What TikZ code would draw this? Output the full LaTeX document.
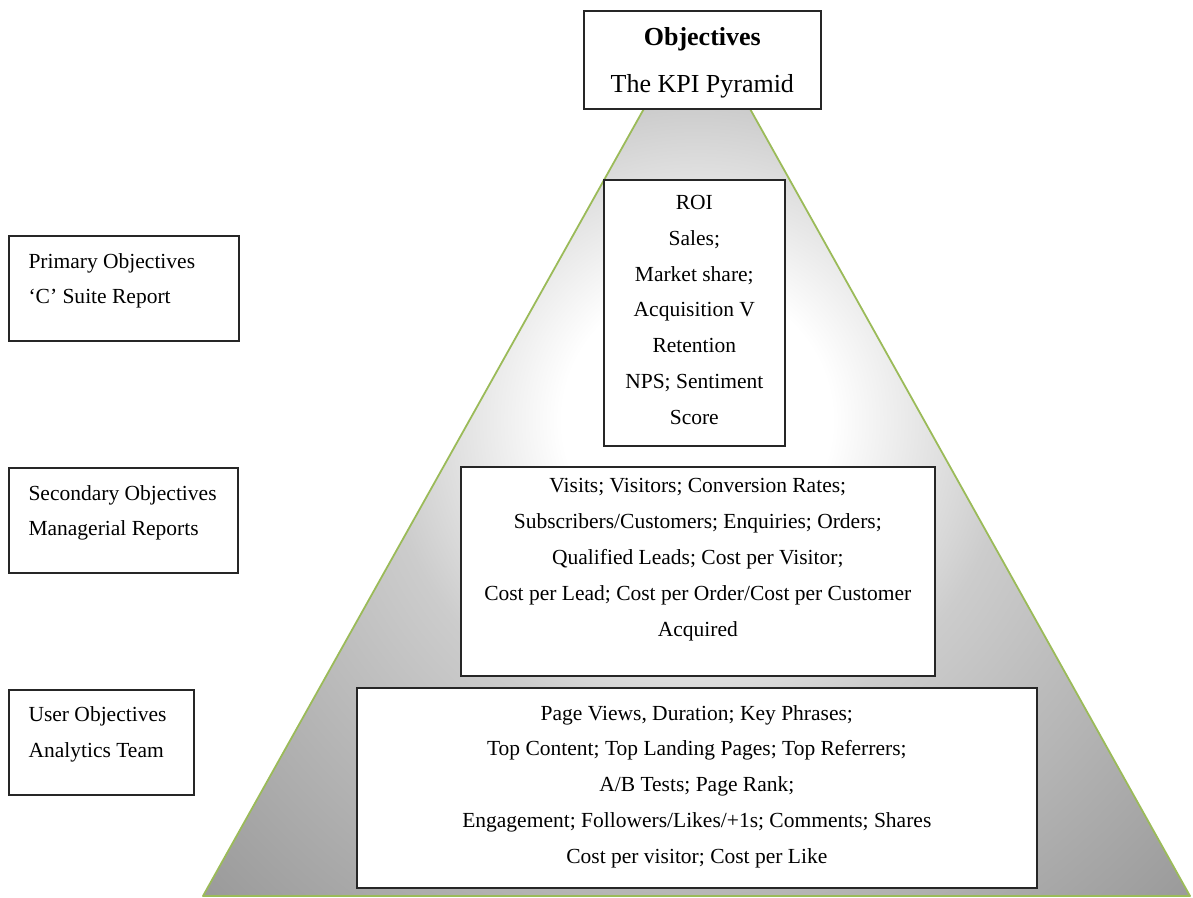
\documentclass[tikz,border=0pt]{standalone}
\usepackage{fontspec}
\setmainfont{Liberation Serif}
\newlength\kpu
\setlength\kpu{0.558pt}
\definecolor{pyrgreen}{HTML}{9BBB59}
\definecolor{pyrmid}{gray}{0.80}
\definecolor{pyrdark}{gray}{0.6}
% radii in real size (1px = 0.558pt)
\pgfdeclareradialshading{pyrshade}{\pgfpointorigin}{color(0bp)=(white); color(75bp)=(white); color(175bp)=(pyrmid); color(385bp)=(pyrdark); color(420bp)=(pyrdark)}
% width, height (px), first baseline, format, text
\newcommand{\kpitxt}[5]{\parbox[t][#2\kpu][t]{#1\kpu}{#4\rule{0pt}{#3}\ignorespaces#5}}

\begin{document}
\begin{tikzpicture}[x=0.558pt,y=-0.558pt,font=\fontsize{12}{20}\selectfont,
  kpibox/.style={draw=black!85,line width=0.9pt,fill=white,inner sep=0pt,anchor=north west}]
  \useasboundingbox (0,0) rectangle (1193,898);

  % pyramid
  \coordinate (apex) at (697,14);
  \coordinate (bl) at (203,896);
  \coordinate (br) at (1190,896);
  \begin{scope}
    \clip (apex) -- (bl) -- (br) -- cycle;
    \begin{scope}[shift={(697,420)}]
      \pgftext{\pgfuseshading{pyrshade}}
    \end{scope}
  \end{scope}
  \draw[pyrgreen,line width=1pt,line join=round] (apex) -- (bl) -- (br) -- cycle;

  % boxes on the pyramid
  \node[kpibox] (top) at (583,10) {\kpitxt{237}{98}{19.5pt}{\centering\fontsize{14.5}{26}\selectfont}{%
    \textbf{Objectives}\\The KPI Pyramid}};
  \node[kpibox] (roi) at (603,179) {\kpitxt{181}{266}{16.5pt}{\centering}{%
    ROI\\Sales;\\Market share;\\Acquisition V\\Retention\\NPS; Sentiment\\Score}};
  \node[kpibox] (secmetrics) at (460,466) {\kpitxt{474}{209}{14.5pt}{\centering}{%
    Visits; Visitors; Conversion Rates;\\Subscribers/Customers; Enquiries; Orders;\\
    Qualified Leads; Cost per Visitor;\\Cost per Lead; Cost per Order/Cost per Customer\\Acquired}};
  \node[kpibox] (usermetrics) at (356,687) {\kpitxt{680}{200}{18pt}{\centering}{%
    Page Views, Duration; Key Phrases;\\Top Content; Top Landing Pages; Top Referrers;\\
    A/B Tests; Page Rank;\\Engagement; Followers/Likes/+1s; Comments; Shares\\
    Cost per visitor; Cost per Like}};

  % level labels
  \node[kpibox] (primary) at (8,235) {\kpitxt{230}{105}{18pt}{\raggedright\leftskip=11pt}{%
    Primary Objectives\\‘C’ Suite Report}};
  \node[kpibox] (secondary) at (8,467) {\kpitxt{229}{105}{18pt}{\raggedright\leftskip=11pt}{%
    Secondary Objectives\\Managerial Reports}};
  \node[kpibox] (user) at (8,689) {\kpitxt{185}{105}{17.5pt}{\raggedright\leftskip=11pt}{%
    User Objectives\\Analytics Team}};
\end{tikzpicture}
\end{document}
